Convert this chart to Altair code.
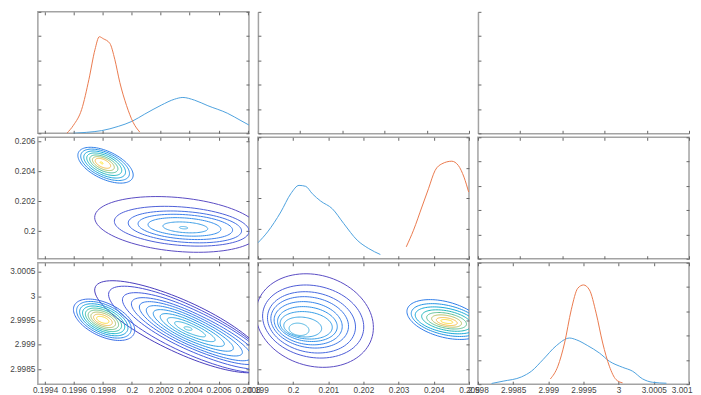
import math
import numpy as np
import pandas as pd
import altair as alt

# ---------------- axis ranges and ticks ----------------
X1_DOM = [0.19935, 0.20081]
X2_DOM = [0.199, 0.205]
X3_DOM = [2.998, 3.001]
Y2_DOM = [0.19816, 0.20627]
Y3_DOM = [2.99819, 3.00069]
D_DOM = [0.0, 1.0]

X1_TICKS = [0.1994, 0.1996, 0.1998, 0.2, 0.2002, 0.2004, 0.2006, 0.2008]
X2_TICKS = [0.199, 0.2, 0.201, 0.202, 0.203, 0.204, 0.205]
X3_TICKS = [2.998, 2.9985, 2.999, 2.9995, 3.0, 3.0005, 3.001]
Y2_TICKS = [0.2, 0.202, 0.204, 0.206]
Y3_TICKS = [2.9985, 2.999, 2.9995, 3.0, 3.0005]
D5_TICKS = [0.0, 0.2, 0.4, 0.6, 0.8, 1.0]
D4_TICKS = [0.0, 0.25, 0.5, 0.75, 1.0]

# ---------------- 1-D densities (diagonal) ----------------
BLUE_11_X = [0.199596, 0.199687, 0.199791, 0.199906, 0.2, 0.200089, 0.200204, 0.200296,
             0.200353, 0.200433, 0.200526, 0.200663, 0.200755, 0.20081]
BLUE_11_D = [0.0, 0.008, 0.022, 0.057, 0.098, 0.158, 0.232, 0.281, 0.295, 0.273, 0.227,
             0.164, 0.104, 0.068]
ORANGE_11_X = [0.19955, 0.199596, 0.199653, 0.199703, 0.199745, 0.199775, 0.199802, 0.199848,
               0.199882, 0.199917, 0.199963, 0.200009, 0.200055]
ORANGE_11_D = [0.0, 0.066, 0.197, 0.443, 0.689, 0.795, 0.779, 0.740, 0.609, 0.418, 0.23, 0.09, 0.01]

BLUE_22_X = [0.199, 0.199275, 0.199651, 0.199934, 0.200169, 0.200358, 0.200548, 0.200783,
             0.201114, 0.201442, 0.201822, 0.20215, 0.202481]
BLUE_22_D = [0.131, 0.221, 0.385, 0.535, 0.604, 0.596, 0.535, 0.475, 0.412, 0.289, 0.153, 0.084, 0.035]
ORANGE_22_X = [0.203217, 0.203423, 0.203661, 0.203848, 0.204037, 0.204227, 0.20451, 0.204697,
               0.204858, 0.204991]
ORANGE_22_D = [0.098, 0.235, 0.426, 0.576, 0.727, 0.781, 0.803, 0.768, 0.672, 0.549]

BLUE_33_X = [2.998194, 2.998358, 2.998618, 2.99876, 2.998924, 2.999114, 2.999302, 2.999397,
             2.999561, 2.999726, 2.999868, 3.000056, 3.000198, 3.000339, 3.000481, 3.000679]
BLUE_33_D = [0.006, 0.025, 0.06, 0.107, 0.202, 0.317, 0.38, 0.366, 0.317, 0.257, 0.189, 0.139,
             0.107, 0.044, 0.016, 0.008]
ORANGE_33_X = [2.999029, 2.999136, 2.999231, 2.999326, 2.999419, 2.9995, 2.999585, 2.99968,
               2.999773, 2.999868, 2.999963, 3.000056]
ORANGE_33_D = [0.043, 0.148, 0.339, 0.612, 0.79, 0.817, 0.776, 0.585, 0.339, 0.148, 0.038, 0.011]

# ---------------- contour rings: centre, half x-extent, half y-extent, tilt, skew, colour ----------------
P21_A = dict(
    cx=[0.199818, 0.199815, 0.199812, 0.199809, 0.199806, 0.199803, 0.1998, 0.199791],
    cy=[0.204406, 0.204432, 0.204452, 0.204472, 0.204492, 0.204512, 0.204532, 0.204558],
    ex=[1.913e-4, 1.686e-4, 1.445e-4, 1.211e-4, 9.77e-5, 7.57e-5, 5.37e-5, 1.03e-5],
    ey=[1.196e-3, 1.050e-3, 9.04e-4, 7.51e-4, 5.98e-4, 4.65e-4, 3.32e-4, 6.6e-5],
    r=[-0.55] * 8, k=[1.0] * 8,
    col=["#2d7ee8", "#2a92e6", "#1ba6dc", "#20b5c0", "#4dbd9c", "#a8c06a", "#f0b945", "#f8dc2a"])
P21_B = dict(
    cx=[0.200314, 0.200345, 0.200367, 0.20037, 0.200364, 0.20037, 0.200358],
    cy=[0.200452, 0.200332, 0.200286, 0.200286, 0.200286, 0.200253, 0.200233],
    ex=[5.71e-4, 4.66e-4, 3.92e-4, 3.27e-4, 2.52e-4, 1.55e-4, 2.9e-5],
    ey=[1.861e-3, 1.329e-3, 1.063e-3, 8.44e-4, 6.18e-4, 3.65e-4, 8.0e-5],
    r=[-0.25] * 7, k=[1.0] * 7,
    col=["#5a4cc4", "#4d5fd8", "#4470e4", "#3b80ea", "#358fea", "#3a9de6", "#45a9e2"])
P31_A = dict(
    cx=[0.199808, 0.199807, 0.199806, 0.199805, 0.199804, 0.199803, 0.199802, 0.1998, 0.199799],
    cy=[2.999516, 2.999516, 2.999516, 2.999515, 2.999515, 2.999515, 2.999515, 2.999514, 2.999514],
    ex=[2.119e-4, 1.892e-4, 1.672e-4, 1.459e-4, 1.252e-4, 1.053e-4, 8.53e-5, 6.47e-5, 4.27e-5],
    ey=[4.262e-4, 3.770e-4, 3.299e-4, 2.848e-4, 2.418e-4, 2.008e-4, 1.598e-4, 1.168e-4, 7.17e-5],
    r=[-0.5] * 9, k=[1.0] * 9,
    col=["#3a6fe6", "#2e88ea", "#1aa0de", "#12b3cc", "#30bcaa", "#6cc089", "#acbe68", "#eab94c", "#f9d52e"])
P31_B = dict(
    cx=[0.200355, 0.200369] + [0.200389] * 9,
    cy=[2.999357, 2.999346] + [2.999336] * 9,
    ex=[6.12e-4, 5.30e-4, 4.54e-4, 3.92e-4, 3.37e-4, 2.89e-4, 2.41e-4, 1.93e-4, 1.44e-4, 9.3e-5, 2.8e-5],
    ey=[9.63e-4, 8.61e-4, 7.38e-4, 6.35e-4, 5.53e-4, 4.71e-4, 3.89e-4, 3.07e-4, 2.25e-4, 1.43e-4, 3.7e-5],
    r=[-0.8] * 10 + [-0.5],
    k=[0.95, 1.1, 1.2, 1.25, 1.3, 1.3, 1.3, 1.3, 1.3, 1.3, 1.0],
    col=["#4a3dbd", "#4b4fd2", "#465fde", "#3f6ee5", "#387ce9", "#3288ea", "#2e93e7", "#2c9de3",
         "#2ea6df", "#33aedb", "#3bb4d4"])
P32_A = dict(
    cx=[0.200613, 0.200571, 0.200523, 0.200472, 0.200429, 0.200407, 0.200373, 0.200274, 0.200169],
    cy=[2.9995, 2.99948, 2.999463, 2.999463, 2.999445, 2.999428, 2.999402, 2.999367, 2.99932],
    ex=[1.670e-3, 1.438e-3, 1.251e-3, 1.104e-3, 9.68e-4, 8.49e-4, 7.41e-4, 5.38e-4, 2.83e-4],
    ey=[9.63e-4, 7.52e-4, 6.31e-4, 5.29e-4, 4.45e-4, 3.59e-4, 2.83e-4, 2.05e-4, 1.27e-4],
    r=[-0.15] * 9, k=[1.0] * 9,
    col=["#5a4cc4", "#4d5bd6", "#4569e0", "#3d78e7", "#3685ea", "#3291e9", "#349ce6", "#3da6e3", "#48b0df"])
P32_B = dict(
    cx=[0.20432, 0.204349, 0.204349, 0.204363, 0.204363, 0.204363, 0.204369, 0.204369],
    cy=[2.999521, 2.99951, 2.999504, 2.9995, 2.999496, 2.99949, 2.99948, 2.99948],
    ex=[1.084e-3, 9.9e-4, 8.77e-4, 7.08e-4, 5.66e-4, 4.25e-4, 2.97e-4, 1.70e-4],
    ey=[4.10e-4, 3.38e-4, 2.77e-4, 2.21e-4, 1.70e-4, 1.27e-4, 8.2e-5, 4.1e-5],
    r=[-0.4] * 8, k=[1.0] * 8,
    col=["#2e7de9", "#2493e4", "#17a8d8", "#22b6bb", "#5dbe93", "#b5bd62", "#f4b942", "#f9d72c"])

BLUE = "#4ea1de"
ORANGE = "#ea7a4e"
FRAME = "#a3a3a3"
W, H = 212, 122


def rings_df(blobs):
    rows = []
    ts = np.linspace(0, 2 * np.pi, 97)
    rid = 0
    for b in blobs:
        for cx, cy, ex, ey, r, k, col in zip(b["cx"], b["cy"], b["ex"], b["ey"], b["r"], b["k"], b["col"]):
            s = math.sqrt(1 - r * r)
            for i, t in enumerate(ts):
                c, sn = math.cos(t), math.sin(t)
                kk = k if c > 0 else 1.0
                rows.append(dict(x=cx + ex * kk * c, y=cy + ey * (r * kk * c + s * sn),
                                 ring=rid, i=i, col=col))
            rid += 1
    return pd.DataFrame(rows)


def curves_df(bx, bd, ox, od):
    rows = [dict(x=x, y=d, s="blue", i=i) for i, (x, d) in enumerate(zip(bx, bd))]
    rows += [dict(x=x, y=d, s="orange", i=i) for i, (x, d) in enumerate(zip(ox, od))]
    return pd.DataFrame(rows)


def curve_layer(df):
    def make(xs, ys):
        return alt.Chart(df).mark_line(strokeWidth=1, clip=True, interpolate="monotone").encode(
            x=alt.X("x:Q", scale=xs, axis=None),
            y=alt.Y("y:Q", scale=ys, axis=None),
            color=alt.Color("s:N", scale=alt.Scale(domain=["blue", "orange"], range=[BLUE, ORANGE]),
                            legend=None),
            order=alt.Order("i:Q"))
    return make


def ring_layer(df):
    def make(xs, ys):
        return alt.Chart(df).mark_line(strokeWidth=1, clip=True).encode(
            x=alt.X("x:Q", scale=xs, axis=None),
            y=alt.Y("y:Q", scale=ys, axis=None),
            detail="ring:N",
            color=alt.Color("col:N", scale=None),
            order=alt.Order("i:Q"))
    return make


def panel(xdom, ydom, xticks, yticks, xlab, ylab, layers, last_right=False):
    xs = alt.Scale(domain=xdom, nice=False, zero=False)
    ys = alt.Scale(domain=ydom, nice=False, zero=False)
    anchor = pd.DataFrame({"x": [xdom[0]], "y": [ydom[0]]})
    xaxis_kw = dict(orient="bottom", values=xticks, labels=xlab, format="~g")
    if last_right:
        edge = xticks[-1] - (xticks[-1] - xticks[-2]) / 10
        xaxis_kw["labelAlign"] = {"condition": {"test": f"datum.value > {edge}", "value": "right"},
                                  "value": "center"}
        xaxis_kw["labelOffset"] = {"condition": {"test": f"datum.value > {edge}", "value": 3},
                                   "value": 0}
    ax1 = alt.Chart(anchor).mark_point(opacity=0).encode(
        x=alt.X("x:Q", scale=xs, title=None, axis=alt.Axis(**xaxis_kw)),
        y=alt.Y("y:Q", scale=ys, title=None,
                axis=alt.Axis(orient="left", values=yticks, labels=ylab, format="~g")))
    ax2 = alt.Chart(anchor).mark_point(opacity=0).encode(
        x=alt.X("x:Q", scale=xs, title=None,
                axis=alt.Axis(orient="top", values=xticks, labels=False)),
        y=alt.Y("y:Q", scale=ys, title=None,
                axis=alt.Axis(orient="right", values=yticks, labels=False)))
    content = [mk(xs, ys) for mk in layers]
    return alt.layer(ax1, ax2, *content).resolve_axis(x="independent", y="independent").properties(
        width=W, height=H)


def open_panel(xticks, yticks):
    """Empty axes drawn with only the left and bottom lines, ticks pointing inward."""
    xs = alt.Scale(domain=D_DOM, nice=False, zero=False)
    ys = alt.Scale(domain=D_DOM, nice=False, zero=False)
    anchor = pd.DataFrame({"x": [D_DOM[0]], "y": [D_DOM[0]]})
    lines = alt.Chart(anchor).mark_point(opacity=0).encode(
        x=alt.X("x:Q", scale=xs, title=None,
                axis=alt.Axis(orient="bottom", values=xticks, labels=False, ticks=False, offset=0,
                              domain=True, domainColor=FRAME, domainWidth=1.5)),
        y=alt.Y("y:Q", scale=ys, title=None,
                axis=alt.Axis(orient="left", values=yticks, labels=False, ticks=False, offset=0,
                              domain=True, domainColor=FRAME, domainWidth=1.5)))
    ticks = alt.Chart(anchor).mark_point(opacity=0).encode(
        x=alt.X("x:Q", scale=xs, title=None,
                axis=alt.Axis(orient="top", values=xticks, labels=False, offset=-H)),
        y=alt.Y("y:Q", scale=ys, title=None,
                axis=alt.Axis(orient="right", values=yticks, labels=False, offset=-W)))
    return alt.layer(lines, ticks).resolve_axis(x="independent", y="independent").properties(
        width=W, height=H, view=alt.ViewBackground(stroke="transparent"))


p11 = panel(X1_DOM, D_DOM, X1_TICKS, D5_TICKS, False, False,
            [curve_layer(curves_df(BLUE_11_X, BLUE_11_D, ORANGE_11_X, ORANGE_11_D))])
p12 = open_panel(D5_TICKS, D5_TICKS)
p13 = open_panel(D5_TICKS, D5_TICKS)
p21 = panel(X1_DOM, Y2_DOM, X1_TICKS, Y2_TICKS, False, True, [ring_layer(rings_df([P21_B, P21_A]))])
p22 = panel(X2_DOM, D_DOM, X2_TICKS, D4_TICKS, False, False,
            [curve_layer(curves_df(BLUE_22_X, BLUE_22_D, ORANGE_22_X, ORANGE_22_D))])
p23 = panel(D_DOM, D_DOM, D5_TICKS, D5_TICKS, False, False, [])
p31 = panel(X1_DOM, Y3_DOM, X1_TICKS, Y3_TICKS, True, True, [ring_layer(rings_df([P31_B, P31_A]))])
p32 = panel(X2_DOM, Y3_DOM, X2_TICKS, Y3_TICKS, True, False, [ring_layer(rings_df([P32_A, P32_B]))])
p33 = panel(X3_DOM, D_DOM, X3_TICKS, D5_TICKS, True, False,
            [curve_layer(curves_df(BLUE_33_X, BLUE_33_D, ORANGE_33_X, ORANGE_33_D))],
            last_right=True)

chart = alt.concat(p11, p12, p13, p21, p22, p23, p31, p32, p33, columns=3,
                   spacing={"row": 4, "column": 9}, bounds="flush").properties(
    padding={"left": 0, "top": 1, "right": 0, "bottom": 0}, background="white"
).configure_view(stroke=FRAME, strokeWidth=1.5).configure_axis(
    labelFont="Liberation Sans", labelFontSize=8.3, labelColor="#444444",
    tickColor="#666666", tickWidth=1, tickSize=3, offset=-3, domain=False, grid=False,
    labelOverlap=False, labelFlush=False, labelBound=False
).configure_axisX(labelPadding=1.5).configure_axisY(labelPadding=3)

chart.save("out.html", embed_options={"renderer": "svg", "actions": False})
